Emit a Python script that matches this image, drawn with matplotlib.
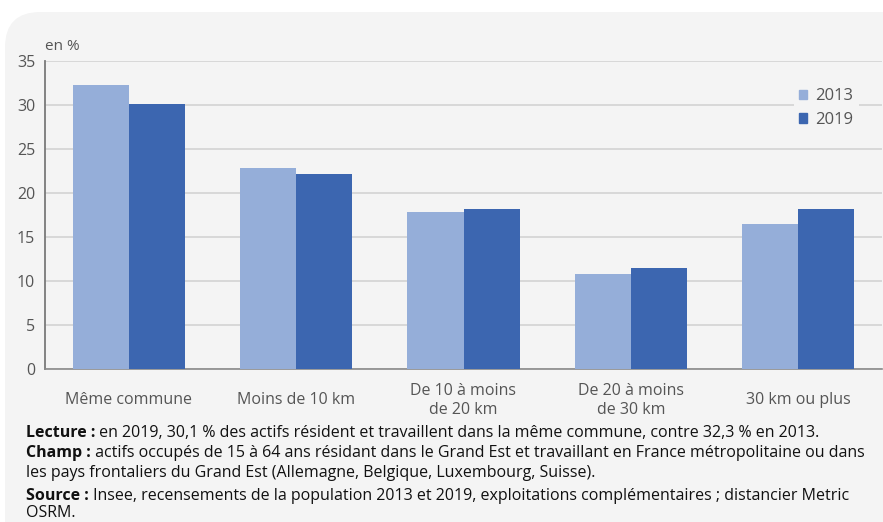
import numpy as np
import matplotlib.pyplot as plt
from matplotlib.patches import FancyBboxPatch, Patch

categories = ["Même commune", "Moins de 10 km", "De 10 à moins\nde 20 km",
              "De 20 à moins\nde 30 km", "30 km ou plus"]
v2013 = [32.3, 22.8, 17.8, 10.8, 16.5]
v2019 = [30.1, 22.2, 18.2, 11.5, 18.2]
yticks = [0, 5, 10, 15, 20, 25, 30, 35]

c13 = "#95aed9"
c19 = "#3c66b0"
bg = "#f4f4f4"
txt = "#555555"

plt.rcParams['font.family'] = ['Open Sans', 'DejaVu Sans']

W, H = 883, 522
fig = plt.figure(figsize=(W / 100, H / 100), dpi=100)
fig.patch.set_facecolor("white")

# rounded grey panel
panel = FancyBboxPatch((5 / W, -0.1), 1.1, 1 - 12 / H + 0.1,
                       boxstyle="round,pad=0,rounding_size=0.04",
                       transform=fig.transFigure, facecolor=bg, edgecolor="none",
                       mutation_aspect=W / H, zorder=-5)
fig.patches.append(panel)

ax = fig.add_axes([45 / W, 1 - 369 / H, 837 / W, 308 / H])
ax.set_facecolor(bg)

x = np.arange(len(categories))
w = 0.335
ax.bar(x - w / 2, v2013, w, color=c13, label="2013", zorder=3)
ax.bar(x + w / 2, v2019, w, color=c19, label="2019", zorder=3)

ax.set_xlim(-0.5, len(categories) - 0.5)
ax.set_ylim(0, 35)
ax.set_yticks(yticks)
ax.set_yticklabels([str(t) for t in yticks], fontsize=11.5, color=txt)
ax.yaxis.grid(True, color="#d3d3d3", linewidth=1.2, zorder=0)
ax.tick_params(axis="y", length=0, pad=7)
ax.set_xticks(x)
ax.set_xticklabels(categories, fontsize=11.5, color=txt, linespacing=1.25)
ax.tick_params(axis="x", length=0, pad=22.5)
for lab in ax.get_xticklabels():
    lab.set_va("center")

for s in ["top", "right"]:
    ax.spines[s].set_visible(False)
ax.spines["left"].set_color("#7a7a7a")
ax.spines["bottom"].set_color("#8a8a8a")
ax.spines["left"].set_linewidth(1.3)
ax.spines["bottom"].set_linewidth(1.2)

fig.text(45 / W, 1 - 46 / H, "en %", fontsize=11, color=txt, va="center", ha="left")

handles = [Patch(color=c13, label="2013"), Patch(color=c19, label="2019")]
leg = ax.legend(handles=handles, loc="upper right", bbox_to_anchor=(0.982, 0.955),
                frameon=True, fontsize=12, handlelength=0.5, handleheight=0.5,
                handletextpad=0.5, labelspacing=0.45, borderpad=0.3)
leg.get_frame().set_facecolor(bg)
leg.get_frame().set_edgecolor("none")
leg.get_frame().set_alpha(1)
for t in leg.get_texts():
    t.set_color(txt)

fs_note = 11.5
notes = [
    ("Lecture :", " en 2019, 30,1 % des actifs résident et travaillent dans la même commune, contre 32,3 % en 2013.", 433),
    ("Champ :", " actifs occupés de 15 à 64 ans résidant dans le Grand Est et travaillant en France métropolitaine ou dans", 453),
    ("", "les pays frontaliers du Grand Est (Allemagne, Belgique, Luxembourg, Suisse).", 473),
    ("Source :", " Insee, recensements de la population 2013 et 2019, exploitations complémentaires ; distancier Metric", 496),
    ("", "OSRM.", 513),
]
for bold, rest, ypx in notes:
    if bold:
        b = fig.text(26 / W, 1 - ypx / H, bold, fontsize=fs_note, fontweight="bold",
                     color="#111111", va="center", ha="left")
        fig.texts.append(plt.Annotation(rest, xy=(1, 0.5), xycoords=b, va="center",
                                        ha="left", fontsize=fs_note, color="#111111"))
        fig.texts[-1].set_figure(fig)
    else:
        fig.text(26 / W, 1 - ypx / H, rest, fontsize=fs_note, color="#111111",
                 va="center", ha="left")

fig.savefig("out.png", dpi=100, facecolor="white")
